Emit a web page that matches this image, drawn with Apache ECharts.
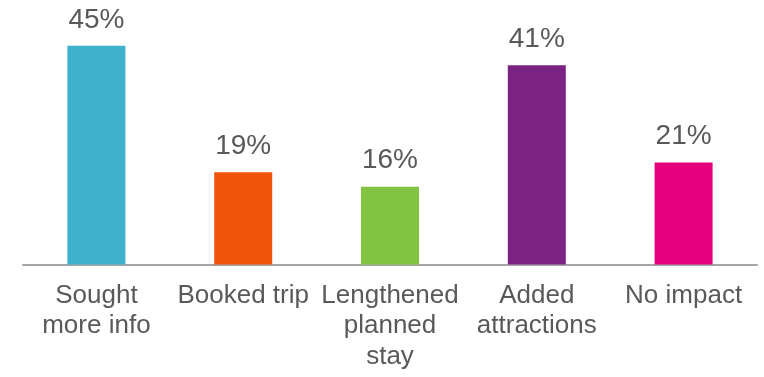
<!DOCTYPE html>
<html>
<head>
<meta charset="utf-8">
<style>html,body{margin:0;padding:0;background:#fff;}#chart{width:764px;height:377px;}</style>
<script src="https://cdn.jsdelivr.net/npm/echarts@6/dist/echarts.min.js"></script>
</head>
<body>
<div id="chart"></div>
<script>
const categories = ['Sought\nmore info', 'Booked trip', 'Lengthened\nplanned\nstay', 'Added\nattractions', 'No impact'];
const values = [45, 19, 16, 41, 21];
const colors = ['#3EB1CD', '#F0540A', '#82C341', '#7A2382', '#E6007E'];

const chart = echarts.init(document.getElementById('chart'));
chart.setOption({
  animation: false,
  grid: { left: 23, right: 7, top: 21.5, bottom: 112.5, containLabel: false },
  xAxis: {
    type: 'category',
    data: categories,
    axisLine: { lineStyle: { color: '#A6A6A6', width: 2 } },
    axisTick: { show: false },
    axisLabel: {
      color: '#595959',
      fontFamily: 'Liberation Sans, Arial, sans-serif',
      fontSize: 26,
      lineHeight: 30.5,
      margin: 16,
      interval: 0
    }
  },
  yAxis: {
    type: 'value',
    min: 0, max: 50,
    show: false
  },
  series: [{
    type: 'bar',
    barWidth: 58,
    data: values.map((v, i) => ({ value: v, itemStyle: { color: colors[i] } })),
    label: {
      show: true,
      position: 'top',
      distance: 12,
      formatter: '{c}%',
      color: '#595959',
      fontFamily: 'Liberation Sans, Arial, sans-serif',
      fontSize: 28
    }
  }]
});
</script>
</body>
</html>
